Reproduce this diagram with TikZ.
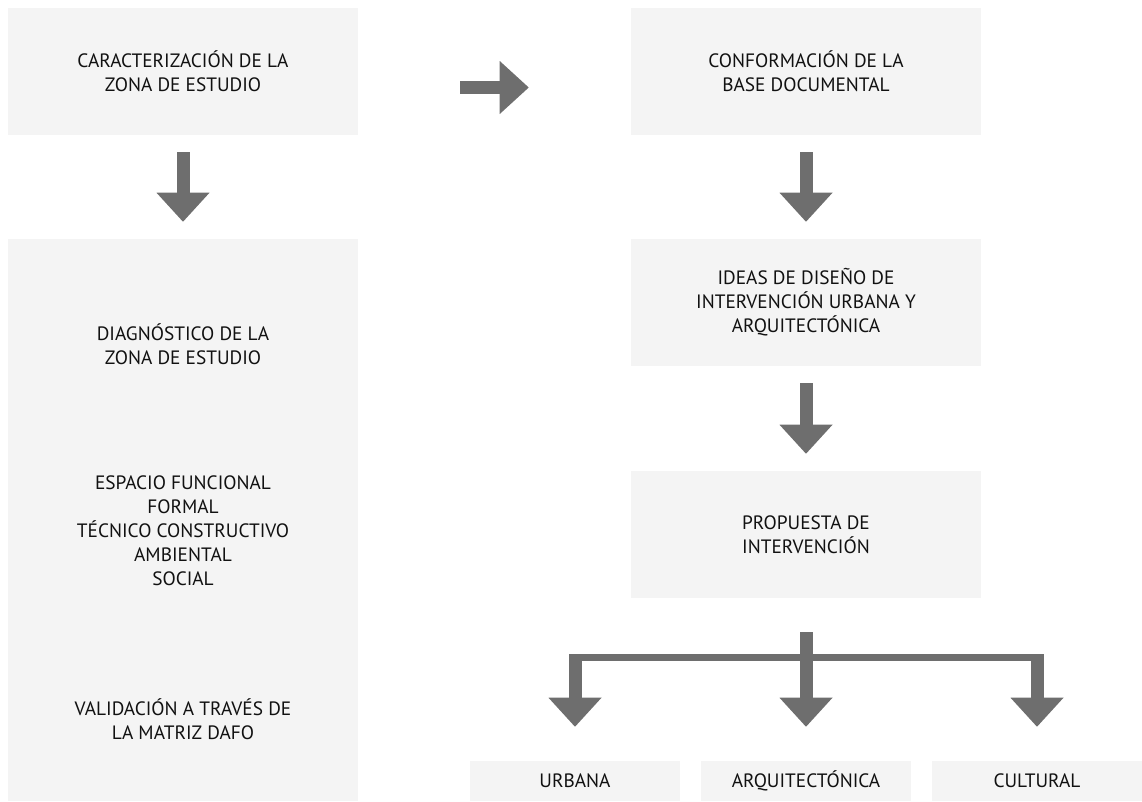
\documentclass[tikz,border=0pt]{standalone}
\usepackage{fontspec}
\setmainfont{PT Sans}
\usetikzlibrary{arrows.meta}
\definecolor{cajagris}{HTML}{F4F4F4}
\definecolor{flechagris}{HTML}{6E6E6E}
\definecolor{textogris}{HTML}{111111}

\begin{document}
\begin{tikzpicture}[x=0.75pt,y=-0.75pt]
    \tikzstyle{every node}+=[inner sep=0pt, text=textogris, align=center, font=\fontsize{14.5}{18}\selectfont]
    \tikzstyle{paso}=[fill=cajagris, minimum width=262.5pt, minimum height=95.25pt]
    \tikzstyle{rama}=[fill=cajagris, minimum width=157.5pt, minimum height=30pt]
    \tikzstyle{flecha}=[draw=flechagris, line width=9.75pt, -{Triangle[width=39.75pt,length=21.75pt,line width=0pt]}]
    \useasboundingbox (0,0) rectangle (1142,801);
    \node [paso] (caract) at (183,71.5) {CARACTERIZACIÓN DE LA\\ZONA DE ESTUDIO};
    \node [paso, minimum height=421.5pt] (diag) at (183,520) {};
    \node (diagtit) at (183,344) {DIAGNÓSTICO DE LA\\ZONA DE ESTUDIO};
    \node (aspectos) at (183,531) {ESPACIO FUNCIONAL\\FORMAL\\TÉCNICO CONSTRUCTIVO\\AMBIENTAL\\SOCIAL};
    \node (dafo) at (183,719) {VALIDACIÓN A TRAVÉS DE\\LA MATRIZ DAFO};
    \node [paso] (conform) at (806,71.5) {CONFORMACIÓN DE LA\\BASE DOCUMENTAL};
    \node [paso] (ideas) at (806,302.5) {IDEAS DE DISEÑO DE\\INTERVENCIÓN URBANA Y\\ARQUITECTÓNICA};
    \node [paso] (propuesta) at (806,534.5) {PROPUESTA DE\\INTERVENCIÓN};
    \node [rama] (urbana) at (575,781) {URBANA};
    \node [rama] (arq) at (806,781) {ARQUITECTÓNICA};
    \node [rama] (cultural) at (1037,781) {CULTURAL};
    \coordinate (horq) at (806,657.5);
    \coordinate (horqtop) at (806,654);
    \draw [flecha, shorten <=12.75pt, shorten >=12.75pt] (caract) -- (diag);
    \draw [flecha, shorten <=76.5pt, shorten >=76.5pt] ([yshift=-12pt]caract.east) -- ([yshift=-12pt]conform.west);
    \draw [flecha, shorten <=12.75pt, shorten >=12.75pt] (conform) -- (ideas);
    \draw [flecha, shorten <=12.75pt, shorten >=12.75pt] (ideas) -- (propuesta);
    \draw [flecha, shorten <=25.5pt, shorten >=25.5pt] (propuesta) -- (arq);
    \draw [draw=flechagris, line width=5.25pt] (urbana.north |- horq) -- (cultural.north |- horq);
    \draw [flecha, shorten >=25.5pt] (urbana.north |- horqtop) -- (urbana.north);
    \draw [flecha, shorten >=25.5pt] (cultural.north |- horqtop) -- (cultural.north);
\end{tikzpicture}
\end{document}
